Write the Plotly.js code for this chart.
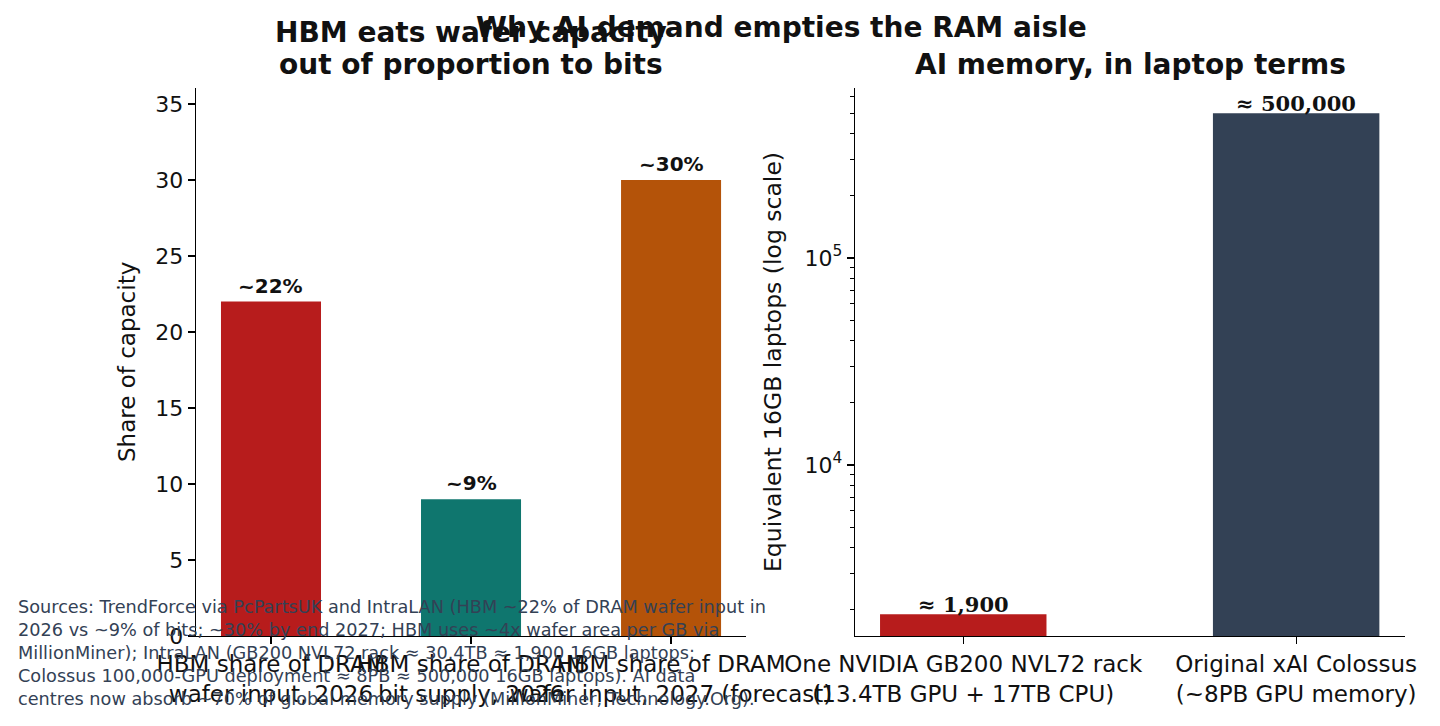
<!DOCTYPE html>
<html>
<head>
<meta charset="utf-8">
<script src="https://cdn.plot.ly/plotly-3.0.1.min.js"></script>
<style>
  html, body { margin: 0; padding: 0; background: #fff; }
  #chart { width: 1440px; height: 726px; }
</style>
</head>
<body>
<div id="chart"></div>
<script>
// Left panel: HBM share of DRAM capacity (%)
var shareLabels = ['HBM share of DRAM<br>wafer input, 2026',
                   'HBM share of DRAM<br>bit supply, 2026',
                   'HBM share of DRAM<br>wafer input, 2027 (forecast)'];
var shareValues = [22, 9, 30];
var shareText = ['~22%', '~9%', '~30%'];
var shareColors = ['#b71c1c', '#0f766e', '#b45309'];

// Right panel: equivalent 16GB laptops
var laptopLabels = ['One NVIDIA GB200 NVL72 rack<br>(13.4TB GPU + 17TB CPU)',
                    'Original xAI Colossus<br>(~8PB GPU memory)'];
var laptopValues = [1900, 500000];
var laptopText = ['≈ 1,900', '≈ 500,000'];
var laptopColors = ['#b71c1c', '#334155'];

var logMajor = [1e4, 1e5];
var logMajorText = ['10<sup>4</sup>', '10<sup>5</sup>'];
var logMinor = [2000, 3000, 4000, 5000, 6000, 7000, 8000, 9000,
                20000, 30000, 40000, 50000, 60000, 70000, 80000, 90000,
                200000, 300000, 400000, 500000, 600000];

var sourceNote = 'Sources: TrendForce via PcPartsUK and IntraLAN (HBM ~22% of DRAM wafer input in<br>' +
  '2026 vs ~9% of bits; ~30% by end 2027; HBM uses ~4x wafer area per GB via<br>' +
  'MillionMiner); IntraLAN (GB200 NVL72 rack ≈ 30.4TB ≈ 1,900 16GB laptops;<br>' +
  'Colossus 100,000-GPU deployment ≈ 8PB ≈ 500,000 16GB laptops). AI data<br>' +
  'centres now absorb ~70% of global memory supply (MillionMiner, Technology.Org).';

var FONT = 'DejaVu Sans, sans-serif';
var H = 726;
function py(pix) { return 1 - pix / H; }   // pixel row -> paper y

var idx1 = shareValues.map(function (v, i) { return i; });
var idx2 = laptopValues.map(function (v, i) { return i; });

var data = [
  {
    x: idx1,
    y: shareValues,
    type: 'bar',
    width: 0.5,
    marker: { color: shareColors },
    xaxis: 'x', yaxis: 'y',
    hoverinfo: 'skip'
  },
  {
    x: idx2,
    y: laptopValues,
    type: 'bar',
    width: 0.5,
    base: 1,
    marker: { color: laptopColors },
    xaxis: 'x2', yaxis: 'y2',
    hoverinfo: 'skip'
  }
];

var annotations = [];
shareValues.forEach(function (v, i) {
  annotations.push({
    x: i, y: v, xref: 'x', yref: 'y',
    text: '<b>' + shareText[i] + '</b>',
    showarrow: false, yanchor: 'bottom', yshift: 2,
    font: { family: FONT, size: 20, color: '#111' }
  });
});
laptopValues.forEach(function (v, i) {
  annotations.push({
    x: i, y: Math.log10(v), xref: 'x2', yref: 'y2',
    text: '<b>' + laptopText[i] + '</b>',
    showarrow: false, yanchor: 'bottom', yshift: -5,
    font: { family: 'DejaVu Serif, serif', size: 21, color: '#111' }
  });
});

function titleLine(txt, xpix, ypix) {
  return {
    x: xpix / 1440, y: py(ypix), xref: 'paper', yref: 'paper',
    text: '<b>' + txt + '</b>',
    showarrow: false, xanchor: 'center', yanchor: 'middle',
    font: { family: FONT, size: 28, color: '#111' }
  };
}
annotations.push(titleLine('HBM eats wafer capacity', 471, 32));
annotations.push(titleLine('out of proportion to bits', 471, 65));
annotations.push(titleLine('AI memory, in laptop terms', 1130, 65));
annotations.push(titleLine('Why AI demand empties the RAM aisle', 781, 28));

annotations.push({
  x: 127 / 1440, y: py(362), xref: 'paper', yref: 'paper',
  text: 'Share of capacity', textangle: -90,
  showarrow: false, xanchor: 'center', yanchor: 'middle',
  font: { family: FONT, size: 23, color: '#111' }
});
annotations.push({
  x: 773 / 1440, y: py(362), xref: 'paper', yref: 'paper',
  text: 'Equivalent 16GB laptops (log scale)', textangle: -90,
  showarrow: false, xanchor: 'center', yanchor: 'middle',
  font: { family: FONT, size: 23.5, color: '#111' }
});

annotations.push({
  x: 16 / 1440, y: py(595), xref: 'paper', yref: 'paper',
  text: sourceNote, align: 'left',
  showarrow: false, xanchor: 'left', yanchor: 'top',
  font: { family: FONT, size: 17.7, color: '#334155' }
});

var axisCommon = {
  showline: true, linecolor: '#000', linewidth: 1.3,
  ticks: 'outside', ticklen: 7, tickwidth: 1.3, tickcolor: '#000',
  showgrid: false, zeroline: false,
  tickfont: { family: FONT, size: 23, color: '#111' }
};

var layout = {
  width: 1440, height: 726,
  margin: { l: 0, r: 0, t: 0, b: 0 },
  paper_bgcolor: '#fff', plot_bgcolor: '#fff',
  showlegend: false,
  font: { family: FONT, color: '#111' },
  xaxis: Object.assign({}, axisCommon, {
    domain: [0.1361, 0.5181],
    range: [-0.375, 2.375],
    tickvals: idx1, ticktext: shareLabels, tickangle: 0,
    anchor: 'y'
  }),
  yaxis: Object.assign({}, axisCommon, {
    domain: [0.124, 0.8788],
    range: [0, 36.05],
    tickvals: [0, 5, 10, 15, 20, 25, 30, 35],
    tickfont: { family: FONT, size: 22, color: '#111' },
    anchor: 'x'
  }),
  xaxis2: Object.assign({}, axisCommon, {
    domain: [0.5938, 0.9757],
    range: [-0.325, 1.327],
    tickvals: idx2, ticktext: laptopLabels, tickangle: 0,
    anchor: 'y2'
  }),
  yaxis2: Object.assign({}, axisCommon, {
    domain: [0.124, 0.8788],
    type: 'log',
    range: [3.174, 5.821],
    tickvals: logMajor, ticktext: logMajorText,
    tickfont: { family: FONT, size: 22, color: '#111' },
    minor: { ticks: 'outside', ticklen: 4, tickwidth: 1, tickcolor: '#000', tickvals: logMinor, showgrid: false },
    anchor: 'x2'
  }),
  annotations: annotations
};

Plotly.newPlot('chart', data, layout, { displayModeBar: false, staticPlot: true });
</script>
</body>
</html>
